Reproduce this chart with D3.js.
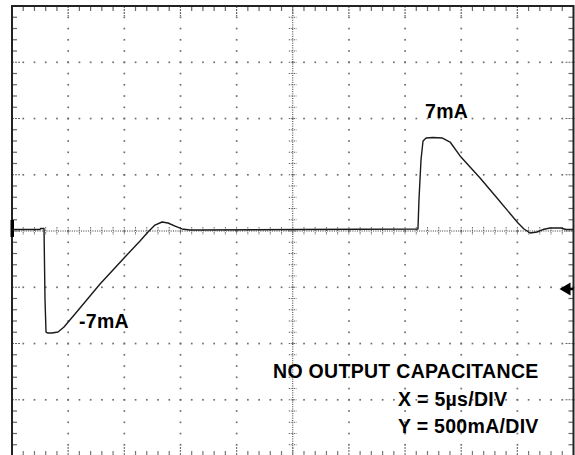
<!DOCTYPE html>
<html><head><meta charset="utf-8">
<script src="https://cdn.jsdelivr.net/npm/d3@7"></script>
<style>
html,body{margin:0;padding:0;background:#fff;}
svg{display:block;}
text{font-family:"Liberation Sans",Arial,Helvetica,sans-serif;font-weight:bold;fill:#000;}
</style></head>
<body>
<svg id="c" width="575" height="455"></svg>
<script>
// time (µs) at 5 µs/DIV, current (mA) at 500 mA/DIV
const timeUs = [0, 2.49, 2.54, 2.85, 2.94, 3.03, 3.21, 3.56, 4.10, 4.63, 5.61, 7.84, 10.06, 11.40, 12.11, 12.73, 13.36, 13.89, 14.52, 15.14, 15.85, 16.74, 25.65, 36.15, 36.24, 36.42, 36.60, 36.87, 37.49, 38.29, 39.01, 39.90, 41.68, 43.19, 45.06, 45.59, 46.13, 46.75, 47.28, 47.91, 48.89, 49.33, 50];
const currentMa = [13, 13, 22, 22, -613, -898, -907, -907, -898, -853, -738, -471, -231, -89, -9, 53, 80, 71, 44, 18, 9, 9, 13, 18, 276, 631, 800, 827, 831, 827, 791, 667, 471, 293, 71, 18, -18, -9, 13, 27, 27, 13, 13];
const xDomain = [0, 50];
const yDomain = [-2000, 2000];
const xMajorStep = 5, yMajorStep = 500;
const peakLabels = ["7mA", "-7mA"];
const peakLabelAt = [[36.78, 1004], [5.97, -862]];
const notes = ["NO OUTPUT CAPACITANCE", "X = 5µs/DIV", "Y = 500mA/DIV"];
const triggerLevelMa = -516;
const channelMarkerMa = [98, -53];

const svg = d3.select("#c");
const x = d3.scaleLinear().domain(xDomain).range([12, 573.5]);
const y = d3.scaleLinear().domain(yDomain).range([456, 6]);

const xMajors = d3.range(xDomain[0], xDomain[1] + 0.01, xMajorStep);
const yMajors = d3.range(yDomain[0], yDomain[1] + 0.01, yMajorStep);
const xMinors = d3.range(xDomain[0], xDomain[1] + 0.01, xMajorStep / 5);
const yMinors = d3.range(yDomain[0], yDomain[1] + 0.01, yMajorStep / 5);
const xc = x(25), yc = y(0);
const g = svg.append("g");
const dotCol = "#6e6e6e";

// sparse grid dots on major lines
xMajors.forEach(xv => {
  if (xv === 25 || xv === 0 || xv === 50) return;
  yMinors.forEach(yv => g.append("rect").attr("x", x(xv) - 0.8).attr("y", y(yv) - 0.8).attr("width", 1.7).attr("height", 1.7).attr("fill", dotCol));
});
yMajors.forEach(yv => {
  if (yv === 0 || yv === yDomain[1]) return;
  xMinors.forEach(xv => g.append("rect").attr("x", x(xv) - 0.8).attr("y", y(yv) - 0.8).attr("width", 1.7).attr("height", 1.7).attr("fill", dotCol));
});

// center lines (dense dotted)
g.append("line").attr("x1", x(0)).attr("x2", x(50)).attr("y1", yc).attr("y2", yc)
  .attr("stroke", "#333").attr("stroke-width", 1).attr("stroke-dasharray", "1,1.3");
g.append("line").attr("x1", xc).attr("x2", xc).attr("y1", y(yDomain[1])).attr("y2", y(yDomain[0]))
  .attr("stroke", "#333").attr("stroke-width", 1).attr("stroke-dasharray", "1,1.3");
// center ticks
xMinors.forEach(xv => g.append("line").attr("x1", x(xv)).attr("x2", x(xv)).attr("y1", yc - 4).attr("y2", yc + 4)
  .attr("stroke", "#666").attr("stroke-width", 1).attr("stroke-dasharray", "1.5,1"));
yMinors.forEach(yv => g.append("line").attr("x1", xc - 4).attr("x2", xc + 4).attr("y1", y(yv)).attr("y2", y(yv))
  .attr("stroke", "#666").attr("stroke-width", 1).attr("stroke-dasharray", "1.5,1"));

// border ticks
xMinors.forEach(xv => {
  const major = Math.abs(xv % xMajorStep) < 1e-6;
  g.append("line").attr("x1", x(xv)).attr("x2", x(xv)).attr("y1", y(yDomain[1])).attr("y2", y(yDomain[1]) + (major ? 10 : 5))
    .attr("stroke", "#666").attr("stroke-width", 1.2).attr("stroke-dasharray", major ? "2,1" : null);
  g.append("line").attr("x1", x(xv)).attr("x2", x(xv)).attr("y1", 455).attr("y2", 455 - (major ? 8 : 4))
    .attr("stroke", "#777").attr("stroke-width", 1.2).attr("stroke-dasharray", major ? "2,1" : null);
});
yMinors.forEach(yv => {
  const major = Math.abs(yv % yMajorStep) < 1e-6;
  g.append("line").attr("x1", x(0)).attr("x2", x(0) + (major ? 9 : 5)).attr("y1", y(yv)).attr("y2", y(yv))
    .attr("stroke", "#666").attr("stroke-width", 1.2).attr("stroke-dasharray", major ? "2,1" : null);
  g.append("line").attr("x1", x(50)).attr("x2", x(50) - (major ? 9 : 5)).attr("y1", y(yv)).attr("y2", y(yv))
    .attr("stroke", "#666").attr("stroke-width", 1.2).attr("stroke-dasharray", major ? "2,1" : null);
});

// border frame
g.append("path").attr("d", `M${x(0)},456 V${y(yDomain[1])} H${x(50)} V456`)
  .attr("fill", "none").attr("stroke", "#222").attr("stroke-width", 2);

// channel marker (left)
g.append("rect").attr("x", x(0) - 1.5).attr("y", y(channelMarkerMa[0])).attr("width", 3.5)
  .attr("height", y(channelMarkerMa[1]) - y(channelMarkerMa[0])).attr("fill", "#000");
// trigger level arrow (right)
const ty = y(triggerLevelMa);
g.append("path").attr("d", `M${x(50) - 14},${ty} L${x(50) - 3},${ty - 6.5} L${x(50) - 3},${ty + 6.5} Z`).attr("fill", "#000");
g.append("line").attr("x1", x(50) - 5).attr("x2", x(50)).attr("y1", ty).attr("y2", ty).attr("stroke", "#000").attr("stroke-width", 2.4);

// trace
const pts = timeUs.map((t, i) => [t, currentMa[i]]);
svg.append("path").datum(pts)
  .attr("d", d3.line().x(d => x(d[0])).y(d => y(d[1])).curve(d3.curveLinear))
  .attr("fill", "none").attr("stroke", "#1a1a1a").attr("stroke-width", 1.4).attr("stroke-linejoin", "round");

// labels
const fs = 19.5;
peakLabels.forEach((s, i) => {
  svg.append("text").attr("x", x(peakLabelAt[i][0])).attr("y", y(peakLabelAt[i][1]))
    .attr("font-size", fs).attr("letter-spacing", 0.3).text(s);
});
svg.append("text").attr("x", 273).attr("y", 378).attr("font-size", fs).attr("letter-spacing", 0.3).text(notes[0]);
svg.append("text").attr("x", 398).attr("y", 406).attr("font-size", fs).attr("letter-spacing", 0.3).text(notes[1]);
svg.append("text").attr("x", 398).attr("y", 433).attr("font-size", fs).attr("letter-spacing", 0.3).text(notes[2]);
</script>
</body></html>
